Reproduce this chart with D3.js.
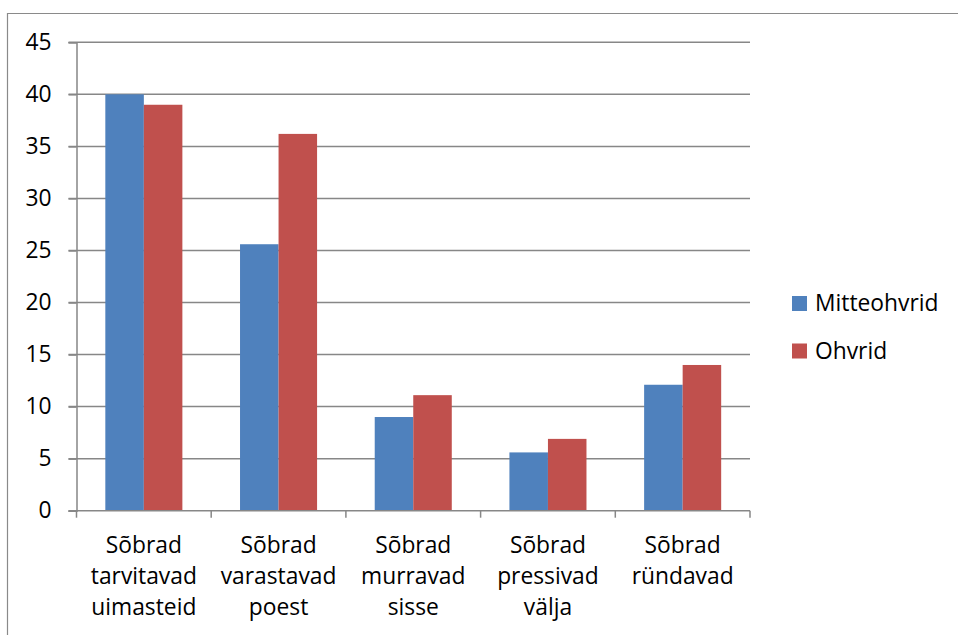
<!DOCTYPE html>
<html><head><meta charset="utf-8">
<script src="https://cdn.jsdelivr.net/npm/d3@7"></script>
<style>body{margin:0;background:#fff}svg text{font-family:"Open Sans",sans-serif;fill:#000}</style>
</head><body><svg id="c" width="958" height="635"></svg>
<script>
const categories = [
  ["Sõbrad","tarvitavad","uimasteid"],
  ["Sõbrad","varastavad","poest"],
  ["Sõbrad","murravad","sisse"],
  ["Sõbrad","pressivad","välja"],
  ["Sõbrad","ründavad"]
];
const seriesNames = ["Mitteohvrid","Ohvrid"];
const mitteohvrid = [40, 25.6, 9.0, 5.6, 12.1];
const ohvrid = [39, 36.2, 11.1, 6.9, 14];
const yTicks = [0,5,10,15,20,25,30,35,40,45];
const colors = ["#4F81BD","#C0504D"];

(function(){
const svg = d3.select("#c");
const pLeft = 76.5, pRight = 750, pTop = 42.3, pBottom = 510.7;
const axisColor = "#878787";
const font = "'Open Sans',sans-serif";
const fs = 22.8;

// outer border
svg.append("path").attr("d","M7.5,640V13.5H960").attr("fill","none").attr("stroke","#8a8a8a").attr("stroke-width",1.2);

const x = d3.scaleBand().domain(d3.range(categories.length)).range([pLeft,pRight]).padding(0);
const y = d3.scaleLinear().domain([0,45]).range([pBottom,pTop]);
const inner = d3.scaleBand().domain([0,1]).range([0, x.bandwidth()*0.572]);

// gridlines
svg.append("g").selectAll("line").data(yTicks.filter(d=>d>0)).join("line")
  .attr("x1",pLeft-8).attr("x2",pRight).attr("y1",d=>y(d)).attr("y2",d=>y(d))
  .attr("stroke",axisColor).attr("stroke-width",1.5);

// bars
const series = [mitteohvrid, ohvrid];
const g = svg.append("g");
series.forEach((vals,si)=>{
  g.selectAll(null).data(vals).join("rect")
    .attr("x",(d,i)=>x(i)+x.bandwidth()/2 - inner.range()[1]/2 + inner(si))
    .attr("width",inner.bandwidth())
    .attr("y",d=>y(d)).attr("height",d=>pBottom-y(d))
    .attr("fill",colors[si]);
});

// y axis
const yAxis = d3.axisLeft(y).tickValues(yTicks).tickSize(8).tickPadding(17);
const ya = svg.append("g").attr("transform",`translate(${pLeft},0)`).call(yAxis);
ya.select(".domain").attr("stroke",axisColor).attr("stroke-width",1.5);
ya.selectAll(".tick line").attr("stroke",axisColor).attr("stroke-width",1.5);
ya.selectAll(".tick text").attr("font-size",fs).attr("font-family",font).attr("fill","#000");

// x axis
const xa = svg.append("g").attr("transform",`translate(0,${pBottom})`);
xa.append("line").attr("x1",pLeft-8).attr("x2",pRight).attr("stroke",axisColor).attr("stroke-width",1.5);
xa.selectAll(".xt").data(d3.range(categories.length+1)).join("line")
  .attr("x1",i=>pLeft+i*x.bandwidth()).attr("x2",i=>pLeft+i*x.bandwidth())
  .attr("y1",0).attr("y2",7).attr("stroke",axisColor).attr("stroke-width",1.5);
const labels = xa.selectAll(".xl").data(categories).join("text")
  .attr("text-anchor","middle").attr("font-size",fs)
  .attr("transform",(d,i)=>`translate(${x(i)+x.bandwidth()/2},${42.3})`);
labels.selectAll("tspan").data(d=>d).join("tspan")
  .attr("x",0).attr("dy",(d,i)=>i===0?0:31).text(d=>d);

// legend
const lg = svg.append("g").selectAll("g").data(seriesNames).join("g")
  .attr("transform",(d,i)=>`translate(792,${296+i*47.5})`);
lg.append("rect").attr("width",15).attr("height",15).attr("fill",(d,i)=>colors[i]);
lg.append("text").attr("x",23).attr("y",15).attr("font-size",fs).text(d=>d);
})();
</script></body></html>
